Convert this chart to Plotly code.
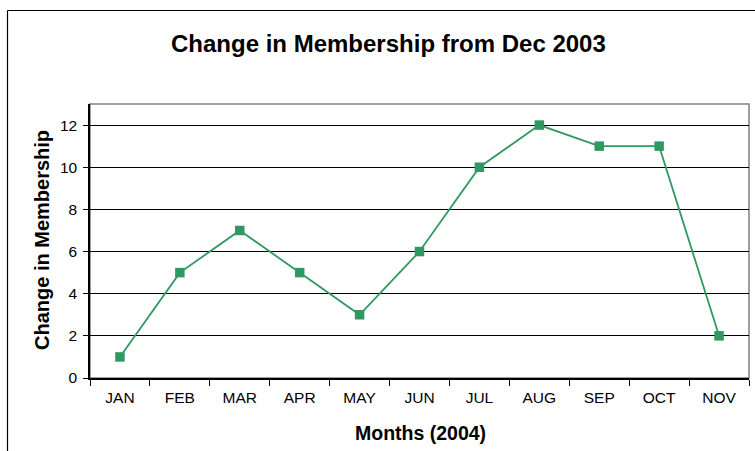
import plotly.graph_objects as go

months = ["JAN", "FEB", "MAR", "APR", "MAY", "JUN", "JUL", "AUG", "SEP", "OCT", "NOV"]
change = [1, 5, 7, 5, 3, 6, 10, 12, 11, 11, 2]

W, H = 755, 451
L, R, T, B = 90, 749, 104, 378

green = "#2E9A62"
font = "Liberation Sans, Arial, sans-serif"

fig = go.Figure()
fig.add_trace(go.Scatter(
    x=months, y=change, mode="lines+markers",
    line=dict(color=green, width=1.8),
    marker=dict(symbol="square", size=9.5, color=green),
    showlegend=False, cliponaxis=False,
))

def px_x(p):
    return (p - L) / (R - L)

def px_y(p):
    return (B - p) / (B - T)

fig.update_layout(
    width=W, height=H,
    margin=dict(l=L, r=W - R, t=T, b=H - B),
    paper_bgcolor="white", plot_bgcolor="white",
    font=dict(family=font, color="black", size=15.5),
    xaxis=dict(
        type="category", range=[-0.5, 10.5],
        tickson="boundaries", ticks="outside", ticklen=6, tickcolor="black",
        showline=True, linecolor="black", linewidth=2,
        showgrid=False, tickfont=dict(size=15.5, family=font),
        ticklabelstandoff=4,
    ),
    yaxis=dict(
        range=[0, 13], dtick=2, tick0=0,
        ticks="outside", ticklen=5, tickcolor="black",
        showline=True, linecolor="black", linewidth=1.5,
        showgrid=True, gridcolor="black", gridwidth=1,
        zeroline=False, tickfont=dict(size=15.5, family=font),
        ticklabelstandoff=3,
    ),
    shapes=[
        # plot area border (top/right)
        dict(type="rect", xref="paper", yref="paper", x0=0, x1=1, y0=0, y1=1,
             line=dict(color="#808080", width=1.5), layer="below"),
        # outer chart border (left and top)
        dict(type="line", xref="paper", yref="paper",
             x0=px_x(7.5), x1=px_x(7.5), y0=px_y(10.5), y1=px_y(470),
             line=dict(color="black", width=1.2)),
        dict(type="line", xref="paper", yref="paper",
             x0=px_x(7.5), x1=px_x(770), y0=px_y(10.5), y1=px_y(10.5),
             line=dict(color="black", width=1.2)),
    ],
    annotations=[
        dict(text="<b>Change in Membership from Dec 2003</b>", xref="paper", yref="paper",
             x=px_x(388), y=px_y(43), showarrow=False, xanchor="center", yanchor="middle",
             font=dict(size=24, family=font, color="black")),
        dict(text="<b>Months (2004)</b>", xref="paper", yref="paper",
             x=px_x(420), y=px_y(433), showarrow=False, xanchor="center", yanchor="middle",
             font=dict(size=19.5, family=font, color="black")),
        dict(text="<b>Change in Membership</b>", xref="paper", yref="paper",
             x=px_x(42), y=px_y(240), showarrow=False, xanchor="center", yanchor="middle",
             textangle=-90, font=dict(size=20, family=font, color="black")),
    ],
)

fig.write_html("out.html", config={"displayModeBar": False},
               post_script="document.body.style.margin='0px';document.body.style.overflow='hidden';")
